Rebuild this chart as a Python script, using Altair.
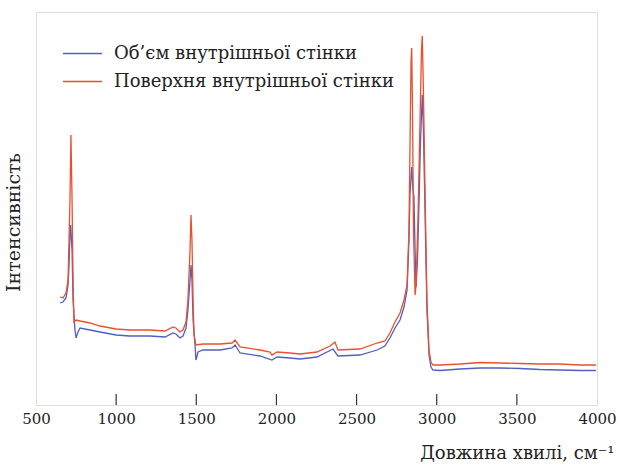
import altair as alt
import pandas as pd

# Wavenumbers (cm^-1) and intensities (arbitrary units)
red_wn = [650, 668, 687, 700, 706, 712, 718, 725, 731, 737, 750, 775, 837, 899, 999, 1086, 1211, 1305,
          1355, 1373, 1398, 1417, 1436, 1448, 1461, 1467, 1473, 1480, 1486, 1498, 1542, 1648, 1723, 1742,
          1773, 1898, 1960, 1972, 2004, 2085, 2147, 2253, 2334, 2365, 2384, 2521, 2628, 2677, 2708, 2740,
          2771, 2796, 2815, 2827, 2833, 2840, 2844, 2849, 2855, 2865, 2871, 2883, 2896, 2905, 2910, 2917,
          2927, 2939, 2952, 2964, 2977, 3021, 3146, 3270, 3395, 3520, 3644, 3769, 3894, 3994]
red_int = [108, 107, 112, 125, 165, 205, 270, 205, 125, 83, 85, 84, 82, 79, 76, 75, 75, 74,
           78, 77, 73, 75, 83, 105, 155, 190, 165, 105, 70, 60, 61, 61, 62, 65,
           58, 55, 53, 50, 53, 52, 51, 53, 59, 63, 55, 56, 62, 64, 72, 83,
           92, 105, 120, 175, 255, 345, 357, 295, 175, 110, 120, 185, 285, 355, 369, 315,
           215, 105, 55, 43, 40, 40, 41, 42.5, 42, 41.5, 41, 41, 40, 40]

blue_wn = [650, 668, 687, 700, 706, 712, 716, 725, 731, 743, 750, 762, 775, 837, 899, 999, 1086, 1211,
           1305, 1355, 1373, 1398, 1417, 1436, 1448, 1461, 1467, 1473, 1480, 1492, 1498, 1511, 1542, 1648,
           1723, 1742, 1773, 1898, 1972, 2004, 2085, 2147, 2253, 2353, 2384, 2521, 2628, 2677, 2708, 2740,
           2771, 2796, 2815, 2827, 2833, 2844, 2852, 2858, 2865, 2871, 2880, 2890, 2899, 2910, 2917, 2927,
           2939, 2952, 2964, 2977, 3021, 3146, 3270, 3395, 3520, 3644, 3769, 3894, 3994]
blue_int = [102, 103, 107, 120, 140, 170, 180, 155, 105, 75, 67, 73, 77, 75, 73, 70, 69, 69,
            68, 72, 71, 67, 69, 77, 95, 125, 140, 125, 85, 60, 45, 53, 55, 55,
            57, 60, 52, 49, 45, 48, 47, 46, 48, 56, 49, 50, 55, 59, 67, 77,
            85, 98, 115, 165, 210, 238, 215, 208, 155, 118, 145, 205, 265, 310, 275, 195,
            95, 50, 38, 35, 34.5, 36, 37, 37, 36.5, 35.5, 35, 34.5, 34.5]

series_names = ["Об’єм внутрішньої стінки", "Поверхня внутрішньої стінки"]
series_colors = ["#4f5fc4", "#e8502e"]
tick_values = [500, 1000, 1500, 2000, 2500, 3000, 3500, 4000]

df = pd.concat([
    pd.DataFrame({"wn": blue_wn, "I": blue_int, "s": series_names[0], "o": range(len(blue_wn))}),
    pd.DataFrame({"wn": red_wn, "I": red_int, "s": series_names[1], "o": range(len(red_wn))}),
])
ticks_df = pd.DataFrame({"t": tick_values[1:-1]})

FONT = "DejaVu Serif"

x_scale = alt.Scale(domain=[500, 4000], nice=False, zero=False)
y_scale = alt.Scale(domain=[0, 393], nice=False, zero=True)

lines = alt.Chart(df).mark_line(strokeWidth=1.3, clip=True).encode(
    x=alt.X("wn:Q", scale=x_scale,
            axis=alt.Axis(values=tick_values, format="d", ticks=False, domain=False, grid=False,
                          labelFont=FONT, labelFontSize=15, labelColor="#222", labelPadding=6,
                          labelFlush=False, labelOverlap=False,
                          title="Довжина хвилі, см⁻¹", titleFont=FONT, titleFontSize=18,
                          titleFontWeight="normal", titleColor="#222",
                          titleAlign="right", titleAnchor="end", titleX=578, titleY=53,
                          titleBaseline="alphabetic")),
    y=alt.Y("I:Q", scale=y_scale,
            axis=alt.Axis(labels=False, ticks=False, domain=False, grid=False,
                          title="Інтенсивність", titleFont=FONT, titleFontSize=19,
                          titleFontWeight="normal", titleColor="#222", titleAngle=270,
                          titleAlign="center", titleBaseline="middle", titleX=-23, titleY=210)),
    color=alt.Color("s:N", scale=alt.Scale(domain=series_names, range=series_colors),
                    legend=alt.Legend(title=None, orient="none", legendX=36, legendY=31,
                                      symbolType="M-2,0H2", symbolSize=380, symbolStrokeWidth=1.5,
                                      labelFont=FONT, labelFontSize=18, labelColor="#222",
                                      labelLimit=500, labelOffset=21, rowPadding=8, padding=0)),
    order="o:Q",
)

tick_marks = alt.Chart(ticks_df).mark_rule(color="#333", strokeWidth=1.2).encode(
    x=alt.X("t:Q", scale=x_scale),
    y=alt.value(393),
    y2=alt.value(382),
)

chart = alt.layer(lines, tick_marks).properties(
    width=561, height=393,
    autosize=alt.AutoSizeParams(type="none"),
    padding={"left": 36, "top": 12, "right": 21, "bottom": 59},
).configure_view(stroke="#333", strokeWidth=2).configure(background="white")

chart.save("out.html", embed_options={"renderer": "svg", "actions": False})
